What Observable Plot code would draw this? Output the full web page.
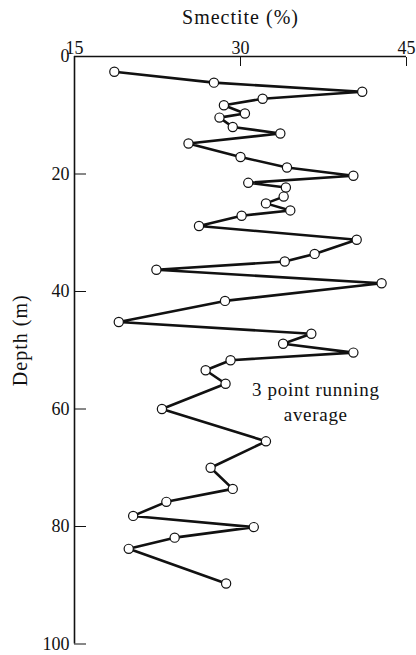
<!DOCTYPE html>
<html>
<head>
<meta charset="utf-8">
<script src="https://cdn.jsdelivr.net/npm/d3@7"></script>
<script src="https://cdn.jsdelivr.net/npm/@observablehq/plot@0.6"></script>
<style>
  html, body { margin: 0; padding: 0; background: #fff; }
  #chart { width: 416px; height: 655px; }
</style>
</head>
<body>
<div id="chart"></div>
<script>
// Smectite content (%) versus depth (m), 3 point running average
const smectite = [18.6, 27.6, 41.0, 32.0, 28.5, 30.4, 28.1, 29.3, 33.6, 25.3,
                  30.0, 34.2, 40.2, 30.7, 34.1, 33.9, 32.3, 34.5, 30.1, 26.25,
                  40.5, 36.7, 34.0, 22.4, 42.75, 28.6, 19.0, 36.4, 33.85, 40.2,
                  29.1, 26.85, 28.65, 22.9, 32.3, 27.3, 29.3, 23.3, 20.3, 31.2,
                  24.05, 19.9, 28.7];
const depth = [2.6, 4.45, 6.0, 7.2, 8.3, 9.7, 10.4, 12.0, 13.1, 14.8,
               17.1, 18.9, 20.3, 21.5, 22.3, 23.85, 25.0, 26.2, 27.1, 28.85,
               31.2, 33.6, 34.9, 36.3, 38.6, 41.6, 45.2, 47.2, 48.9, 50.4,
               51.7, 53.4, 55.7, 60.0, 65.5, 70.0, 73.6, 75.8, 78.2, 80.1,
               81.9, 83.8, 89.7];
const xTicks = [15, 30, 45];
const yTicks = [0, 20, 40, 60, 80, 100];
const xLabel = "Smectite (%)";
const yLabel = "Depth (m)";
const noteText = "3 point running\naverage";
const noteX = [36.8];
const noteY = [62];

const data = smectite.map((s, i) => ({s, d: depth[i]}));

const chart = Plot.plot({
  width: 416,
  height: 655,
  marginLeft: 74,
  marginRight: 10,
  marginTop: 56,
  marginBottom: 11.5,
  style: {fontFamily: "'Liberation Serif', 'DejaVu Serif', serif", fontSize: "18px", background: "#fff", color: "#111"},
  x: {domain: [15, 45], axis: null},
  y: {domain: [0, 100], reverse: true, axis: null},
  marks: [
    Plot.ruleX([15], {stroke: "#111", strokeWidth: 1.6}),
    Plot.ruleY([0], {stroke: "#111", strokeWidth: 1.6}),
    Plot.axisX(xTicks, {anchor: "top", tickSize: -9, tickPadding: 12, label: null, fontSize: 18, stroke: "#111"}),
    Plot.axisY(yTicks, {anchor: "left", tickSize: -12, tickPadding: 17, label: null, fontSize: 18, stroke: "#111"}),
    Plot.line(data, {x: "s", y: "d", stroke: "#111", strokeWidth: 2.6, strokeLinejoin: "miter"}),
    Plot.dot(data, {x: "s", y: "d", r: 4.6, fill: "#fff", stroke: "#111", strokeWidth: 1.2}),
    Plot.text([xLabel], {text: d => d, frameAnchor: "top", lineAnchor: "bottom", dy: -33, fontSize: 20, fill: "#111"}),
    Plot.text([yLabel], {text: d => d, frameAnchor: "left", textAnchor: "middle", rotate: -90, lineAnchor: "middle", dx: -54, dy: -10, fontSize: 20, fill: "#111"}),
    Plot.text([noteText], {text: d => d, x: () => noteX[0], y: () => noteY[0], lineAnchor: "bottom", lineHeight: 1.3, fontSize: 19, fill: "#111"})
  ]
});
chart.querySelectorAll("[font-size]").forEach(t => {
  const fs = parseFloat(t.getAttribute("font-size"));
  if (fs >= 20) t.style.letterSpacing = "1px";
  else if (fs >= 19) t.style.letterSpacing = "0.7px";
});
document.getElementById("chart").appendChild(chart);
</script>
</body>
</html>
